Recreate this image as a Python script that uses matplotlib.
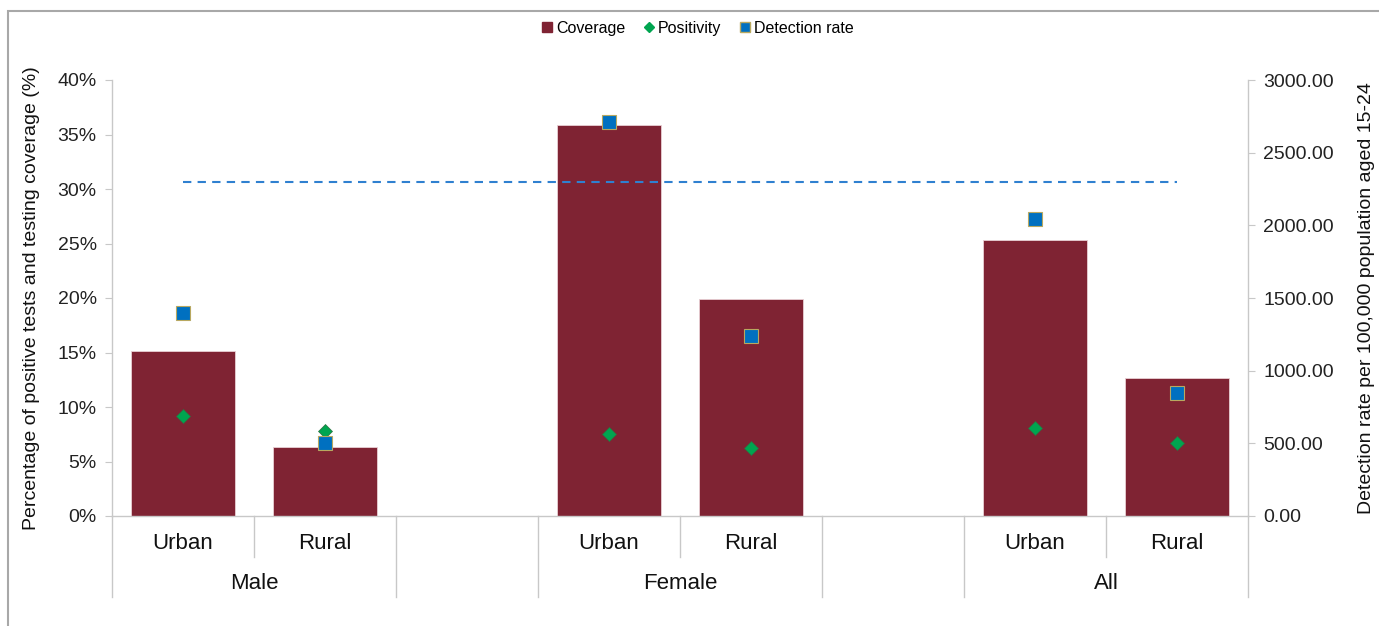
import matplotlib.pyplot as plt
from matplotlib.lines import Line2D
from matplotlib.patches import Rectangle

plt.rcParams['font.family'] = ['Liberation Sans', 'DejaVu Sans']

# data
areas = ['Urban', 'Rural', 'Urban', 'Rural', 'Urban', 'Rural']
groups = ['Male', 'Female', 'All']
slots = [0, 1, 3, 4, 6, 7]          # slot 2 and 5 are empty gaps
coverage = [15.1, 6.3, 35.9, 19.9, 25.3, 12.7]      # %
positivity = [9.2, 7.8, 7.5, 6.2, 8.1, 6.7]         # %
detection = [1397, 502, 2711, 1239, 2044, 846]      # per 100,000
ref_line = [2300] * 6

bar_col = '#7F2333'
grn = '#00A550'
blu = '#0070C0'
axcol = '#C8C8C8'

fig = plt.figure(figsize=(13.79, 6.26), dpi=100)
ax = fig.add_axes([112/1379, 1-516/626, (1248-112)/1379, (516-80)/626])
ax2 = ax.twinx()

ax.bar(slots, coverage, width=0.73, color=bar_col, edgecolor='#E8D0D4', linewidth=0.6, zorder=2)
ax.plot(slots, positivity, ls='none', marker='D', ms=7.5, color=grn,
        markeredgecolor='#2E7040', markeredgewidth=0.5, zorder=4)
ax2.plot(slots, detection, ls='none', marker='s', ms=9.5, color=blu,
         markeredgecolor='#B8A860', markeredgewidth=0.8, zorder=5)
ax2.plot(slots, ref_line, ls=(0, (4, 3)), color='#2F80D0', lw=1.5, zorder=3)

ax.set_xlim(-0.5, 7.5)
ax.set_ylim(0, 40)
ax2.set_ylim(0, 3000)
ax.set_yticks(range(0, 41, 5))
ax.set_yticklabels([f'{v}%' for v in range(0, 41, 5)])
ax2.set_yticks(range(0, 3001, 500))
ax2.set_yticklabels([f'{v:.2f}' for v in range(0, 3001, 500)])
ax.set_xticks([])

for a in (ax, ax2):
    for s in a.spines.values():
        s.set_visible(False)
    a.tick_params(axis='y', direction='out', length=5, color=axcol,
                  labelsize=14, labelcolor='#222222', pad=6)

# axis lines and category separators
tr = ax.get_xaxis_transform()
ax.add_line(Line2D([-0.5, 7.5], [0, 0], transform=tr, color=axcol, lw=1, clip_on=False))
long_x = [-0.5, 1.5, 2.5, 4.5, 5.5, 7.5]
short_x = [0.5, 3.5, 6.5]
for x in long_x:
    ax.add_line(Line2D([x, x], [0, -0.186], transform=tr, color=axcol, lw=1, clip_on=False))
for x in short_x:
    ax.add_line(Line2D([x, x], [0, -0.094], transform=tr, color=axcol, lw=1, clip_on=False))
for x in (-0.5, 7.5):
    ax.add_line(Line2D([x, x], [0, 1], transform=tr, color=axcol, lw=1, clip_on=False))

for x, lab in zip(slots, areas):
    ax.text(x, -0.062, lab, transform=tr, ha='center', va='center', fontsize=16, color='#111111')
for i, g in enumerate(groups):
    ax.text(slots[2*i] + 0.5, -0.154, g, transform=tr, ha='center', va='center',
            fontsize=16, color='#111111')

ax.set_ylabel('Percentage of positive tests and testing coverage (%)', fontsize=14, color='#111111')
ax.yaxis.set_label_coords(-0.063, 0.5)
ax2.set_ylabel('Detection rate per 100,000 population aged 15-24', fontsize=14, color='#111111')
ax2.yaxis.set_label_coords(1.097, 0.5)

handles = [
    Line2D([], [], ls='none', marker='s', ms=7, color=bar_col),
    Line2D([], [], ls='none', marker='D', ms=5.5, color=grn),
    Line2D([], [], ls='none', marker='s', ms=7, color=blu, markeredgecolor='#B8A860'),
]
fig.legend(handles, ['Coverage', 'Positivity', 'Detection rate'], loc='center',
           bbox_to_anchor=(0.505, 0.955), ncol=3, frameon=False, fontsize=11.5,
           handletextpad=0.05, columnspacing=1.0, handlelength=1.0)

fig.patches.append(Rectangle((8/1379, -0.1), 1.2, 1.1 - 11/626, transform=fig.transFigure,
                             fill=False, edgecolor='#A8A8A8', lw=1.5))

fig.savefig('out.png', dpi=100)
